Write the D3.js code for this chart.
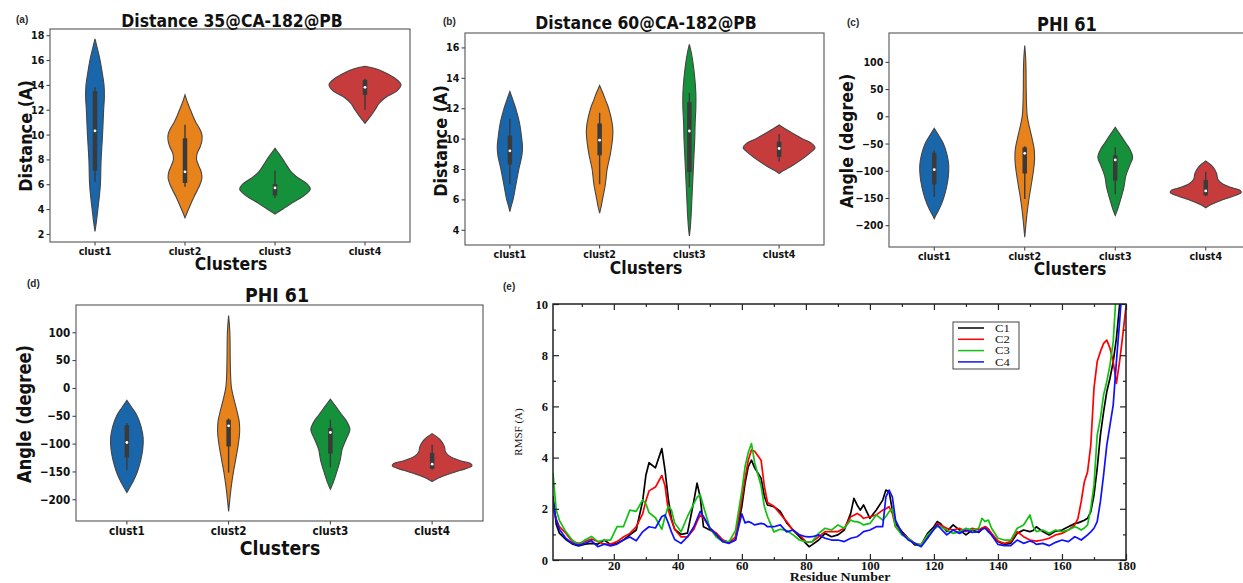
<!DOCTYPE html>
<html>
<head>
<meta charset="utf-8">
<script src="https://cdn.jsdelivr.net/npm/d3@7"></script>
<style>
  body { margin: 0; background: #fff; }
  svg { display: block; }
</style>
</head>
<body>
<div id="chart"></div>
<script>
// whole figure: four violin panels + one RMSF line plot
const width = 1243;
const height = 583;

const clusters = ["clust1", "clust2", "clust3", "clust4"];

// violin outlines: [value, half width as share of the widest violin]
const dist35Shapes = [
  [[2.2,0],[3,0.04],[4,0.08],[5,0.12],[6,0.15],[8,0.17],[10,0.21],[12,0.24],[13,0.26],[14,0.25],[15,0.2],[16,0.14],[17,0.06],[17.7,0]],
  [[3.3,0],[4,0.1],[5,0.25],[5.5,0.34],[6,0.42],[6.5,0.47],[7,0.45],[7.5,0.38],[8,0.32],[8.5,0.34],[9,0.42],[9.5,0.47],[10,0.47],[10.5,0.4],[11,0.3],[11.5,0.22],[12,0.15],[12.5,0.08],[13.2,0]],
  [[3.6,0],[4,0.22],[4.5,0.48],[5,0.77],[5.3,0.9],[5.6,0.98],[6,0.9],[6.5,0.65],[7,0.45],[7.5,0.33],[8,0.22],[8.5,0.1],[8.9,0]],
  [[10.9,0],[11.2,0.08],[11.5,0.16],[12,0.28],[12.5,0.39],[13,0.58],[13.5,0.88],[14,1.0],[14.5,0.85],[15,0.55],[15.3,0.3],[15.5,0]]
];
// q1, median, q3, whisker low, whisker high
const dist35Boxes = [[7.1,10.3,13.5,6.2,13.8],[6.1,7.0,9.7,5.8,10.8],[5.1,5.7,6.0,4.9,7.1],[13.2,13.8,14.4,12.0,14.5]];
const dist35Ticks = [2,4,6,8,10,12,14,16,18];

const dist60Shapes = [
  [[5.2,0],[5.5,0.03],[6,0.09],[7,0.17],[8,0.25],[8.5,0.3],[9,0.34],[9.5,0.35],[10,0.33],[11,0.27],[12,0.16],[12.5,0.09],[13.1,0]],
  [[5.1,0],[5.5,0.04],[6,0.08],[7,0.16],[8,0.21],[9,0.3],[10,0.36],[10.5,0.37],[11,0.35],[12,0.25],[12.5,0.17],[13,0.09],[13.5,0]],
  [[3.6,0],[4,0.02],[5,0.05],[6,0.07],[7,0.09],[8,0.11],[9,0.13],[10,0.15],[11,0.16],[12,0.18],[13,0.18],[14,0.15],[15,0.1],[15.7,0.05],[16.2,0]],
  [[7.7,0],[7.9,0.12],[8.2,0.35],[8.5,0.55],[9,0.83],[9.4,1.0],[9.7,0.9],[10,0.64],[10.5,0.27],[10.9,0]]
];
const dist60Boxes = [[8.3,9.2,10.2,7.0,11.3],[8.9,9.9,11.0,7.0,11.7],[7.8,10.5,12.4,6.8,13.0],[8.8,9.35,9.8,8.5,10.3]];
const dist60Ticks = [4,6,8,10,12,14,16];

const phi61Shapes = [
  [[-188,0],[-180,0.06],[-170,0.14],[-150,0.26],[-130,0.34],[-110,0.39],[-90,0.4],[-70,0.35],[-50,0.25],[-35,0.12],[-22,0]],
  [[-222,0],[-200,0.03],[-180,0.06],[-150,0.12],[-130,0.17],[-100,0.24],[-80,0.27],[-60,0.26],[-40,0.2],[-20,0.13],[0,0.07],[20,0.05],[50,0.04],[100,0.03],[130,0]],
  [[-182,0],[-170,0.07],[-150,0.16],[-130,0.24],[-110,0.29],[-90,0.4],[-75,0.48],[-60,0.4],[-50,0.3],[-35,0.15],[-20,0]],
  [[-168,0],[-163,0.12],[-155,0.4],[-148,0.7],[-140,0.98],[-136,0.95],[-130,0.66],[-122,0.42],[-115,0.33],[-105,0.3],[-95,0.22],[-88,0.12],[-82,0]]
];
const phi61Boxes = [[-125,-98,-67,-148,-63],[-105,-68,-57,-152,-55],[-118,-80,-72,-143,-57],[-145,-137,-117,-147,-102]];
const phi61Ticks = [-200,-150,-100,-50,0,50,100];

// RMSF per residue
const residues = [1,2,3,5,7,9,11,13,15,17,19,21,23,25,27,29,30,31,33,35,36,37,38,39,41,43,45,46,47,48,50,52,54,56,58,60,61,62,63,64,66,67,68,70,72,74,76,78,80,81,82,84,86,88,90,92,94,95,96,97,98,100,102,104,105,106,107,108,110,112,114,116,118,120,121,122,124,126,128,130,132,134,135,136,137,138,140,142,144,146,148,150,151,152,154,156,158,160,162,164,165,166,167,168,169,170,171,172,173,174,175,176,177,178,179,180];
const rmsfC1 = [2.5,1.4,1.05,0.8,0.63,0.55,0.62,0.65,0.62,0.78,
  0.6,0.65,0.78,0.98,1.17,2.3,3.3,3.8,3.6,4.35,
  3.5,2.4,1.6,1.2,1.0,1.05,2.3,3.0,2.45,1.3,
  1.17,1.04,0.78,0.68,0.78,2.1,3.0,3.65,3.9,3.6,
  3.2,2.5,2.15,2.08,1.9,1.45,1.17,0.91,0.65,0.52,
  0.6,0.78,1.04,0.91,0.98,1.17,1.82,2.41,2.15,1.95,
  2.15,1.63,1.95,2.34,2.73,2.67,1.95,1.43,1.11,0.85,
  0.59,0.59,1.04,1.3,1.5,1.43,1.11,1.37,1.17,0.98,
  1.17,1.08,1.2,1.3,1.2,0.98,0.72,0.61,0.65,1.04,
  1.17,1.11,1.15,1.3,1.11,0.98,1.13,1.17,1.3,1.43,
  1.45,1.5,1.55,1.63,1.89,2.54,3.58,4.88,5.79,6.58,
  7.1,7.75,8.66,9.96,11.5,12.5];
const rmsfC2 = [2.0,1.6,1.3,1.05,0.72,0.65,0.72,0.82,0.72,0.62,
  0.62,0.72,0.9,1.04,1.3,1.8,2.3,2.7,2.85,3.3,
  2.9,1.95,1.55,1.2,0.9,0.9,1.2,1.5,1.75,1.65,
  1.25,1.04,0.78,0.68,0.9,2.4,3.2,3.9,4.3,4.25,
  3.9,2.9,2.25,2.1,1.8,1.5,1.15,0.98,0.72,0.7,
  0.72,0.91,1.11,1.11,1.11,1.24,1.69,1.75,1.82,1.75,
  1.63,1.69,1.76,1.95,2.0,2.08,1.82,1.3,1.04,0.85,
  0.65,0.59,0.91,1.2,1.43,1.37,1.24,1.17,1.24,1.11,
  1.24,1.17,1.25,1.3,1.2,1.04,0.74,0.65,0.72,1.11,
  0.91,0.78,0.76,0.74,0.78,0.85,0.98,1.04,1.17,1.37,
  1.63,2.28,3.06,3.45,4.49,6.71,7.75,8.14,8.46,8.59,
  8.27,7.75,6.9,7.75,8.79,9.9];
const rmsfC3 = [3.4,1.95,1.55,1.1,0.78,0.6,0.78,0.92,0.72,0.78,
  0.78,1.3,1.3,1.95,1.9,2.35,2.2,1.85,1.65,1.2,
  1.7,2.1,1.95,1.45,1.1,1.7,2.2,2.45,2.55,2.1,
  1.25,0.9,0.72,0.72,1.15,2.7,3.65,4.2,4.55,3.8,
  2.9,2.1,1.7,1.1,1.2,1.15,0.98,0.78,0.72,0.7,
  0.72,1.04,1.24,1.17,1.37,1.24,1.56,1.5,1.5,1.45,
  1.37,1.43,1.76,1.56,1.7,1.89,2.0,1.3,0.98,0.85,
  0.65,0.59,0.98,1.2,1.3,1.3,1.17,1.04,1.11,1.24,
  1.17,1.24,1.63,1.5,1.56,1.24,0.85,0.78,0.78,1.24,
  1.37,1.76,1.3,1.11,1.17,1.04,1.17,1.11,1.17,1.3,
  1.25,1.17,1.25,1.37,2.02,2.93,4.88,5.53,6.45,6.97,
  7.62,8.53,10.6,12,13,14];
const rmsfC4 = [2.3,1.55,1.2,0.85,0.65,0.58,0.65,0.76,0.52,0.62,
  0.55,0.62,0.78,0.9,0.75,1.1,1.2,1.3,1.25,1.7,
  1.76,1.45,1.1,0.8,0.65,0.9,1.3,1.6,1.9,1.7,
  1.25,0.98,0.72,0.65,0.78,1.8,1.45,1.5,1.45,1.37,
  1.43,1.4,1.3,1.3,1.37,1.1,1.17,0.98,0.91,0.9,
  0.91,0.98,0.85,0.78,0.78,0.72,0.85,0.88,0.91,1.0,
  1.11,1.17,1.3,1.3,2.47,2.73,2.47,1.56,1.04,0.78,
  0.65,0.52,0.85,1.2,1.37,1.24,0.98,1.17,1.04,1.17,
  1.08,1.11,1.2,1.24,1.1,0.98,0.61,0.56,0.56,0.78,
  0.65,0.74,0.7,0.61,0.65,0.56,0.69,0.78,0.72,0.91,
  0.85,0.78,0.88,0.98,1.1,1.24,1.5,2.28,3.32,4.49,
  5.27,6.05,7.75,9.31,11,12];
const rmsfNames = ["C1", "C2", "C3", "C4"];
const residueTicks = [20,40,60,80,100,120,140,160,180];
const residueMinor = [10,30,50,70,90,110,130,150,170];
const rmsfTicks = [0,2,4,6,8,10];
const rmsfMinor = [1,3,5,7,9];

const violinColors = ["#1a66ab", "#e8821b", "#14913a", "#c63b3c"];
const lineColors = ["#000000", "#ff0000", "#12c012", "#1010ff"];

const svg = d3.select("#chart").append("svg")
    .attr("width", width)
    .attr("height", height);

// text helper: matplotlib text here is a bit narrower than DejaVu, so squeeze it
function label(g, txt, x, y, size, opt = {}) {
  return g.append("text")
    .attr("transform", "translate(" + x + "," + y + ")" + (opt.rotate ? " rotate(-90)" : "") + " scale(" + (opt.sx || 0.87) + ",1)")
    .attr("text-anchor", opt.anchor || "middle")
    .style("font-family", opt.family || "'DejaVu Sans', sans-serif")
    .style("font-weight", opt.weight || "bold")
    .style("font-size", size + "px")
    .style("fill", opt.fill || "#111")
    .text(txt);
}

function violinPanel(p) {
  const g = svg.append("g");

  const x = d3.scaleBand().domain(clusters).range([p.left, p.right]);
  const y = d3.scaleLinear().domain(p.yDomain).range([p.bottom, p.top]);
  const half = x.bandwidth() * 0.4;

  // violins
  p.shapes.forEach(function(shape, i) {
    const cx = x(clusters[i]) + x.bandwidth() / 2;
    const area = d3.area()
      .y(d => y(d[0]))
      .x0(d => cx - half * d[1])
      .x1(d => cx + half * d[1])
      .curve(d3.curveCatmullRom);
    g.append("path")
      .datum(shape)
      .attr("d", area)
      .attr("fill", violinColors[i])
      .attr("stroke", "#454545")
      .attr("stroke-width", 1.1);

    const b = p.boxes[i];
    g.append("line")
      .attr("x1", cx).attr("x2", cx)
      .attr("y1", y(b[3])).attr("y2", y(b[4]))
      .attr("stroke", "#3a3a3a").attr("stroke-width", 1.4);
    g.append("line")
      .attr("x1", cx).attr("x2", cx)
      .attr("y1", y(b[0])).attr("y2", y(b[2]))
      .attr("stroke", "#3a3a3a").attr("stroke-width", 4.5);
    g.append("circle")
      .attr("cx", cx).attr("cy", y(b[1]))
      .attr("r", 1.4)
      .attr("fill", "#fff");
  });

  // axes
  const yAxis = g.append("g")
    .attr("transform", "translate(" + p.left + ",0)")
    .call(d3.axisLeft(y).tickValues(p.ticks).tickSize(3.5).tickPadding(3));
  const xAxis = g.append("g")
    .attr("transform", "translate(0," + p.bottom + ")")
    .call(d3.axisBottom(x).tickSize(3.5).tickPadding(2));
  [yAxis, xAxis].forEach(function(ax) {
    ax.select(".domain").remove();
    ax.selectAll("line").attr("stroke", "#333");
    ax.selectAll("text")
      .attr("transform", "scale(0.87,1)")
      .style("font-family", "'DejaVu Sans', sans-serif")
      .style("font-weight", "bold")
      .style("font-size", p.tickSize + "px")
      .style("fill", "#111");
  });

  g.append("rect")
    .attr("x", p.left).attr("y", p.top)
    .attr("width", p.right - p.left).attr("height", p.bottom - p.top)
    .attr("fill", "none")
    .attr("stroke", "#555")
    .attr("stroke-width", 1.1);

  label(g, p.title, p.titleX, p.titleY, p.titleSize);
  label(g, p.yLabel, p.yLabelX, p.yLabelY, p.yLabelSize, { rotate: true });
  label(g, "Clusters", p.xLabelX, p.xLabelY, p.xLabelSize);
  label(g, p.tag, p.tagX, p.tagY, 10, { anchor: "start", family: "'Liberation Sans', sans-serif", sx: 1, fill: "#2a2a2a" });
}

violinPanel({
  left: 50, right: 410, top: 29, bottom: 242, yDomain: [1.35, 18.5],
  ticks: dist35Ticks, shapes: dist35Shapes, boxes: dist35Boxes, tickSize: 11,
  title: "Distance 35@CA-182@PB", titleX: 232, titleY: 27, titleSize: 18,
  yLabel: "Distance (A)", yLabelX: 32, yLabelY: 136, yLabelSize: 18.5,
  xLabelX: 231, xLabelY: 270, xLabelSize: 18,
  tag: "(a)", tagX: 16, tagY: 23
});

violinPanel({
  left: 465, right: 824, top: 33, bottom: 245, yDomain: [3.0, 16.95],
  ticks: dist60Ticks, shapes: dist60Shapes, boxes: dist60Boxes, tickSize: 11,
  title: "Distance 60@CA-182@PB", titleX: 646, titleY: 29, titleSize: 18,
  yLabel: "Distance (A)", yLabelX: 447, yLabelY: 141, yLabelSize: 18.5,
  xLabelX: 646, xLabelY: 274, xLabelSize: 18,
  tag: "(b)", tagX: 443, tagY: 25
});

violinPanel({
  left: 889, right: 1251, top: 33, bottom: 247, yDomain: [-240, 153],
  ticks: phi61Ticks, shapes: phi61Shapes, boxes: phi61Boxes, tickSize: 11,
  title: "PHI 61", titleX: 1067, titleY: 31, titleSize: 18.7,
  yLabel: "Angle (degree)", yLabelX: 853, yLabelY: 141, yLabelSize: 18.3,
  xLabelX: 1070, xLabelY: 275, xLabelSize: 18,
  tag: "(c)", tagX: 847, tagY: 26
});

violinPanel({
  left: 76, right: 483, top: 305, bottom: 521, yDomain: [-239, 149],
  ticks: phi61Ticks, shapes: phi61Shapes, boxes: phi61Boxes, tickSize: 12,
  title: "PHI 61", titleX: 277, titleY: 302, titleSize: 20,
  yLabel: "Angle (degree)", yLabelX: 31, yLabelY: 414, yLabelSize: 18.8,
  xLabelX: 280, xLabelY: 555, xLabelSize: 20,
  tag: "(d)", tagX: 27, tagY: 287
});

// ---- panel (e): RMSF ----
const eLeft = 553, eRight = 1126, eTop = 304, eBottom = 560;
const ge = svg.append("g");

const xr = d3.scaleLinear().domain([1, 180]).range([eLeft, eRight]);
const yr = d3.scaleLinear().domain([0, 10]).range([eBottom, eTop]);

ge.append("clipPath").attr("id", "clipE")
  .append("rect")
  .attr("x", eLeft).attr("y", eTop)
  .attr("width", eRight - eLeft).attr("height", eBottom - eTop);

const series = [rmsfC1, rmsfC2, rmsfC3, rmsfC4];
const line = d3.line()
  .x(d => xr(d[0]))
  .y(d => yr(d[1]));

series.forEach(function(vals, i) {
  ge.append("path")
    .datum(residues.map((r, j) => [r, vals[j]]))
    .attr("d", line)
    .attr("clip-path", "url(#clipE)")
    .attr("fill", "none")
    .attr("stroke", lineColors[i])
    .attr("stroke-width", 1.7)
    .attr("stroke-linejoin", "round");
});

function styleAxis(ax) {
  ax.select(".domain").remove();
  ax.selectAll("line").attr("stroke", "#222").attr("stroke-width", 1.2);
  ax.selectAll("text")
    .style("font-family", "'Liberation Serif', 'Times New Roman', serif")
    .style("font-weight", "bold")
    .style("font-size", "12.5px")
    .style("fill", "#111");
}

// major + minor ticks, all pointing inward
styleAxis(ge.append("g").attr("transform", "translate(0," + eBottom + ")")
  .call(d3.axisBottom(xr).tickValues(residueTicks).tickSize(-6).tickPadding(1.5)));
styleAxis(ge.append("g").attr("transform", "translate(0," + eBottom + ")")
  .call(d3.axisBottom(xr).tickValues(residueMinor).tickSize(-3).tickFormat("")));
styleAxis(ge.append("g").attr("transform", "translate(0," + eTop + ")")
  .call(d3.axisTop(xr).tickValues(residueTicks).tickSize(-6).tickFormat("")));
styleAxis(ge.append("g").attr("transform", "translate(0," + eTop + ")")
  .call(d3.axisTop(xr).tickValues(residueMinor).tickSize(-3).tickFormat("")));
styleAxis(ge.append("g").attr("transform", "translate(" + eLeft + ",0)")
  .call(d3.axisLeft(yr).tickValues(rmsfTicks).tickSize(-6).tickPadding(5)));
styleAxis(ge.append("g").attr("transform", "translate(" + eLeft + ",0)")
  .call(d3.axisLeft(yr).tickValues(rmsfMinor).tickSize(-3).tickFormat("")));
styleAxis(ge.append("g").attr("transform", "translate(" + eRight + ",0)")
  .call(d3.axisRight(yr).tickValues(rmsfTicks).tickSize(-6).tickFormat("")));
styleAxis(ge.append("g").attr("transform", "translate(" + eRight + ",0)")
  .call(d3.axisRight(yr).tickValues(rmsfMinor).tickSize(-3).tickFormat("")));

ge.append("rect")
  .attr("x", eLeft).attr("y", eTop)
  .attr("width", eRight - eLeft).attr("height", eBottom - eTop)
  .attr("fill", "none")
  .attr("stroke", "#222")
  .attr("stroke-width", 1.5);

label(ge, "Residue Number", 840, 581, 12.5, { family: "'Liberation Serif', serif", sx: 1.12 });
label(ge, "RMSF (A)", 522, 432, 11, { family: "'Liberation Serif', serif", weight: "normal", rotate: true, sx: 1 });
label(ge, "(e)", 503, 290, 10, { anchor: "start", family: "'Liberation Sans', sans-serif", sx: 1, fill: "#2a2a2a" });

// legend
const legend = ge.append("g");
legend.append("rect")
  .attr("x", 953).attr("y", 322)
  .attr("width", 66).attr("height", 47)
  .attr("fill", "#fff")
  .attr("stroke", "#444")
  .attr("stroke-width", 1);
rmsfNames.forEach(function(name, i) {
  const ly = 328 + i * 11.3;
  legend.append("line")
    .attr("x1", 958).attr("x2", 984)
    .attr("y1", ly).attr("y2", ly)
    .attr("stroke", lineColors[i])
    .attr("stroke-width", 1.5);
  label(legend, name, 995, ly + 3.8, 11, { anchor: "start", family: "'Liberation Serif', serif", weight: "normal", sx: 1.15 });
});
</script>
</body>
</html>
